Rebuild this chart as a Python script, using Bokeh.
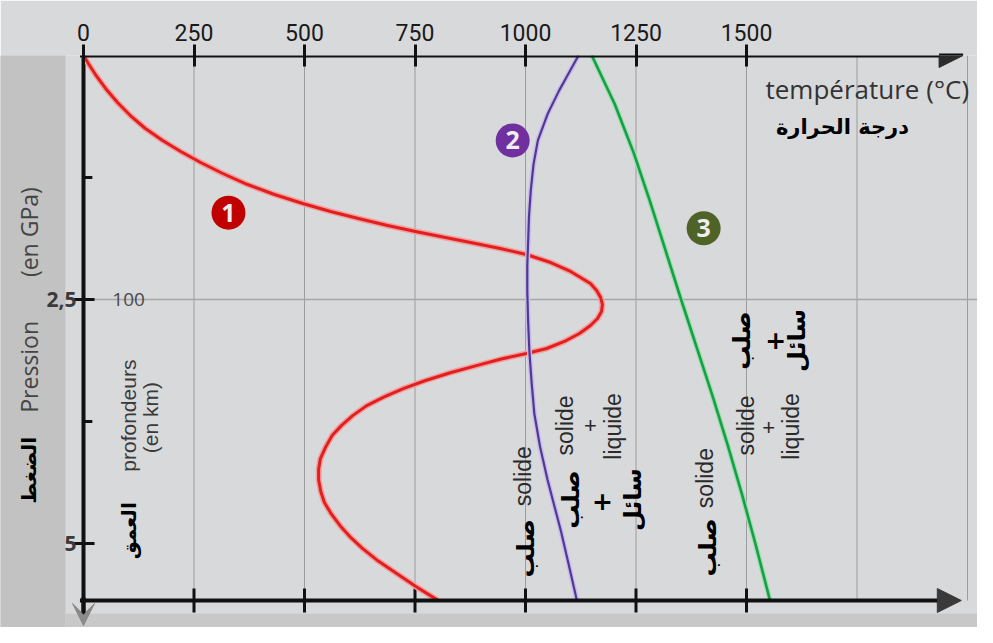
from math import pi
from bokeh.plotting import figure
from bokeh.models import (Range1d, FixedTicker, Arrow, NormalHead, VeeHead,
                          ColumnDataSource, BoxAnnotation)
from bokeh.core.properties import value
from bokeh.embed import file_html
from bokeh.resources import INLINE

# ---------------- data ----------------
temp_ticks = [0, 250, 500, 750, 1000, 1250, 1500]
bottom_ticks = [250, 500, 750, 1000, 1250, 1500]
grid_temps = [250, 500, 750, 1000, 1250, 1500, 1750, 2000]
pressure_major = [2.5, 5]
pressure_minor = [1.25, 3.75]
pressure_major_labels = ["2,5", "5"]
pressure_grid = [2.5]
p_bottom = 5.584          # pressure where the lower temperature axis sits
t_axis_end = 1990         # temperature at the tip of the horizontal axis arrows

# curve 1: geotherm (red)
geotherm_p = [0.00, 0.082, 0.195, 0.338, 0.482, 0.615, 0.748, 0.871, 0.984, 1.096,
              1.209, 1.322, 1.424, 1.516, 1.598, 1.670, 1.742, 1.803, 1.865, 1.926,
              1.977, 2.039, 2.121, 2.213, 2.336, 2.408, 2.480, 2.551, 2.623, 2.695,
              2.766, 2.848, 2.930, 3.002, 3.053, 3.11, 3.18, 3.25, 3.33, 3.41, 3.50,
              3.59, 3.69, 3.79, 3.89, 4.01, 4.13, 4.24, 4.35, 4.47, 4.58, 4.70, 4.82,
              4.94, 5.05, 5.18, 5.30, 5.44, 5.58]
geotherm_t = [0, 11, 27, 50, 77, 106, 140, 179, 220, 265,
              315, 371, 432, 496, 559, 622, 688, 751, 819, 887,
              943, 1002, 1057, 1102, 1147, 1161, 1170, 1174, 1172, 1163,
              1147, 1122, 1088, 1048, 1002, 945, 887, 830, 774, 725, 679,
              640, 609, 584, 563, 548, 536, 532, 532, 537, 545, 561, 581,
              605, 631, 667, 706, 752, 801]

# curve 2: solidus (purple)
solidus_p = [0.00, 0.18, 0.36, 0.60, 0.87, 1.12, 1.38, 1.64, 1.90, 2.15, 2.41, 2.73,
             3.05, 3.36, 3.67, 4.01, 4.35, 4.61, 4.87, 5.22, 5.58]
solidus_t = [1120, 1098, 1076, 1050, 1028, 1018, 1012, 1008, 1006, 1004, 1004, 1006,
             1009, 1014, 1020, 1033, 1050, 1065, 1080, 1098, 1116]

# curve 3: solidus (green)
solidus3_p = [0.0, 0.5, 1.0, 1.5, 2.0, 2.5, 3.0, 3.5, 4.0, 4.5, 5.0, 5.58]
solidus3_t = [1150, 1202, 1245, 1282, 1317, 1352, 1388, 1424, 1458, 1490, 1520, 1553]

marker_text = ["1", "2", "3"]
marker_t = [328, 971, 1403]
marker_p = [1.61, 0.87, 1.77]
marker_colors = ["#c00000", "#7030a0", "#4f6228"]

fr_text = ["solide", "solide", "liquide", "solide", "solide", "liquide"]
fr_t = [995, 1090, 1199, 1407, 1498, 1600]
fr_p = [4.31, 3.79, 3.80, 4.33, 3.79, 3.80]

ar_text = ["صلب", "صلب", "سائل", "صلب", "صلب", "سائل"]
ar_t = [1000, 1102, 1244, 1412, 1489, 1614]
ar_p = [5.05, 4.55, 4.55, 5.04, 2.92, 2.92]

plus_small_t = [1147, 1550]
plus_small_p = [3.79, 3.81]
plus_big_t = [1174, 1566]
plus_big_p = [4.56, 2.92]

# ---------------- figure ----------------
W, H = 977, 627
PX_T = 0.442      # pixels per degree
PX_P = 97.6       # pixels per GPa
t0 = -83 / PX_T
t1 = t0 + W / PX_T
pb = (H - 55) / PX_P

p = figure(width=W, height=H, output_backend="svg", toolbar_location=None,
           title=None, x_range=Range1d(t0, t1), y_range=Range1d(pb, 0),
           x_axis_location="above", y_axis_location=None,
           min_border_left=0, min_border_right=0, min_border_top=55, min_border_bottom=0)
p.outline_line_color = None
p.background_fill_color = "#d8d9da"
p.border_fill_color = "#d8d9da"
p.grid.visible = False

# background bands
p.add_layout(BoxAnnotation(left=t0 - 50, right=t1 + 50, top=-0.7, bottom=-0.123,
                           fill_color="#b6b6b6", fill_alpha=1, line_color=None,
                           level="underlay"))
p.add_layout(BoxAnnotation(left=t0 - 50, right=-41, top=-0.7, bottom=pb + 0.5,
                           fill_color="#c2c2c2", fill_alpha=1, line_color=None,
                           level="underlay"))
p.add_layout(BoxAnnotation(left=-41, right=t1 + 50, top=5.72, bottom=pb + 0.5,
                           fill_color="#c8c8c8", fill_alpha=1, line_color=None,
                           level="underlay"))

ax = p.xaxis[0]
ax.ticker = FixedTicker(ticks=temp_ticks, minor_ticks=[])
ax.axis_line_color = None
ax.major_tick_line_color = "#111111"
ax.major_tick_line_width = 3
ax.major_tick_in = 11
ax.major_tick_out = 11
ax.major_label_standoff = 4
ax.major_label_text_font = "Roboto"
ax.major_label_text_font_size = "23px"
ax.major_label_text_color = "#1a1a1a"

# grid lines
p.segment(x0=grid_temps, y0=[0] * len(grid_temps), x1=grid_temps,
          y1=[p_bottom] * len(grid_temps), line_color="#9c9c9c", line_width=1)
p.segment(x0=[0] * len(pressure_grid), y0=pressure_grid, x1=[t1] * len(pressure_grid),
          y1=pressure_grid, line_color="#a6a6a6", line_width=1.5)

# left (pressure) axis
p.segment(x0=[0], y0=[0], x1=[0], y1=[5.75], line_color="#111111", line_width=4)
p.segment(x0=[-25] * 2, y0=pressure_major, x1=[25] * 2, y1=pressure_major,
          line_color="#111111", line_width=3)
p.segment(x0=[0] * 2, y0=pressure_minor, x1=[20] * 2, y1=pressure_minor,
          line_color="#111111", line_width=3)
p.text([-16] * 2, pressure_major, text=pressure_major_labels, text_align="right",
       text_baseline="middle", text_font=value("Open Sans"), text_font_style="bold",
       text_font_size="21px", text_color="#3a3a3a")
p.add_layout(Arrow(end=VeeHead(size=22, fill_color="#8a8a8a", line_color="#8a8a8a"),
                   x_start=0, y_start=5.55, x_end=0, y_end=5.84,
                   line_color="#111111", line_width=4))

# lower temperature axis
p.segment(x0=bottom_ticks, y0=[p_bottom - 0.123] * len(bottom_ticks), x1=bottom_ticks,
          y1=[p_bottom + 0.123] * len(bottom_ticks), line_color="#111111", line_width=3)
p.add_layout(Arrow(end=NormalHead(size=24, fill_color="#3a3a3a", line_color="#3a3a3a"),
                   x_start=-8, y_start=p_bottom, x_end=t_axis_end - 4, y_end=p_bottom,
                   line_color="#111111", line_width=4))
# upper temperature axis line
p.add_layout(Arrow(end=NormalHead(size=24, fill_color="#2b2b2b", line_color="#2b2b2b"),
                   x_start=-8, y_start=0, x_end=t_axis_end, y_end=0,
                   line_color="#111111", line_width=4))

# curves
p.line(geotherm_t, geotherm_p, line_color="#f3a0a0", line_width=6, line_join="round")
p.line(geotherm_t, geotherm_p, line_color="#e0201f", line_width=3, line_join="round")
p.line(solidus_t, solidus_p, line_color="#cbbbe8", line_width=5, line_join="round")
p.line(solidus_t, solidus_p, line_color="#4e3a96", line_width=2.2, line_join="round")
p.line(solidus3_t, solidus3_p, line_color="#9fdcae", line_width=5, line_join="round")
p.line(solidus3_t, solidus3_p, line_color="#14a046", line_width=2.6, line_join="round")

# numbered markers
msrc = ColumnDataSource(dict(t=marker_t, p=marker_p, txt=marker_text, c=marker_colors))
p.scatter("t", "p", source=msrc, size=34, fill_color="c", line_color=None)
p.text("t", "p", text="txt", source=msrc, text_align="center", text_baseline="middle",
       text_color="#eeeeee", text_font=value("Open Sans"), text_font_style="bold",
       text_font_size="25px")

# labels inside graph
p.text(fr_t, fr_p, text=fr_text, angle=pi / 2, text_align="center",
       text_baseline="middle", text_font=value("Liberation Sans"),
       text_font_size="23px", text_color="#2a2a2a")
p.text(ar_t, ar_p, text=ar_text, angle=pi / 2, text_align="center",
       text_baseline="middle", text_font=value("DejaVu Sans"), text_font_style="bold",
       text_font_size="24px", text_color="#000000")
p.text(plus_small_t, plus_small_p, text=["+", "+"], text_align="center",
       text_baseline="middle", text_font=value("Liberation Sans"),
       text_font_size="22px", text_color="#2a2a2a")
p.text(plus_big_t, plus_big_p, text=["+", "+"], text_align="center",
       text_baseline="middle", text_font=value("DejaVu Sans"), text_font_style="bold",
       text_font_size="25px", text_color="#000000")

p.text([1543], [0.34], text=["température (°C)"], text_align="left",
       text_baseline="middle", text_font=value("Open Sans"), text_font_size="26px",
       text_color="#333333")
p.text([1717], [0.73], text=["درجة الحرارة"], text_align="center",
       text_baseline="middle", text_font=value("DejaVu Sans"), text_font_style="bold",
       text_font_size="21px", text_color="#000000")
p.text([102], [2.5], text=["100"], text_align="center", text_baseline="middle",
       text_font=value("Open Sans"), text_font_size="19px", text_color="#4a4a4a")
p.text([102, 152], [3.69, 3.71], text=["profondeurs", "(en km)"], angle=pi / 2,
       text_align="center", text_baseline="middle", text_font=value("Liberation Sans"),
       text_font_size="21px", text_color="#3a3a3a")
p.text([102], [4.87], text=["العمق"], angle=pi / 2, text_align="center",
       text_baseline="middle", text_font=value("DejaVu Sans"), text_font_style="bold",
       text_font_size="20px", text_color="#000000")

# labels in the left band
p.text([-124.4, -124.4], [3.19, 1.81], text=["Pression", "(en GPa)"], angle=pi / 2,
       text_align="center", text_baseline="middle", text_font=value("Open Sans"),
       text_font_size="23px", text_color="#444444")
p.text([-124.4], [4.25], text=["الضغط"], angle=pi / 2, text_align="center",
       text_baseline="middle", text_font=value("DejaVu Sans"), text_font_style="bold",
       text_font_size="20px", text_color="#000000")

open("out.html", "w").write(file_html(p, INLINE))
